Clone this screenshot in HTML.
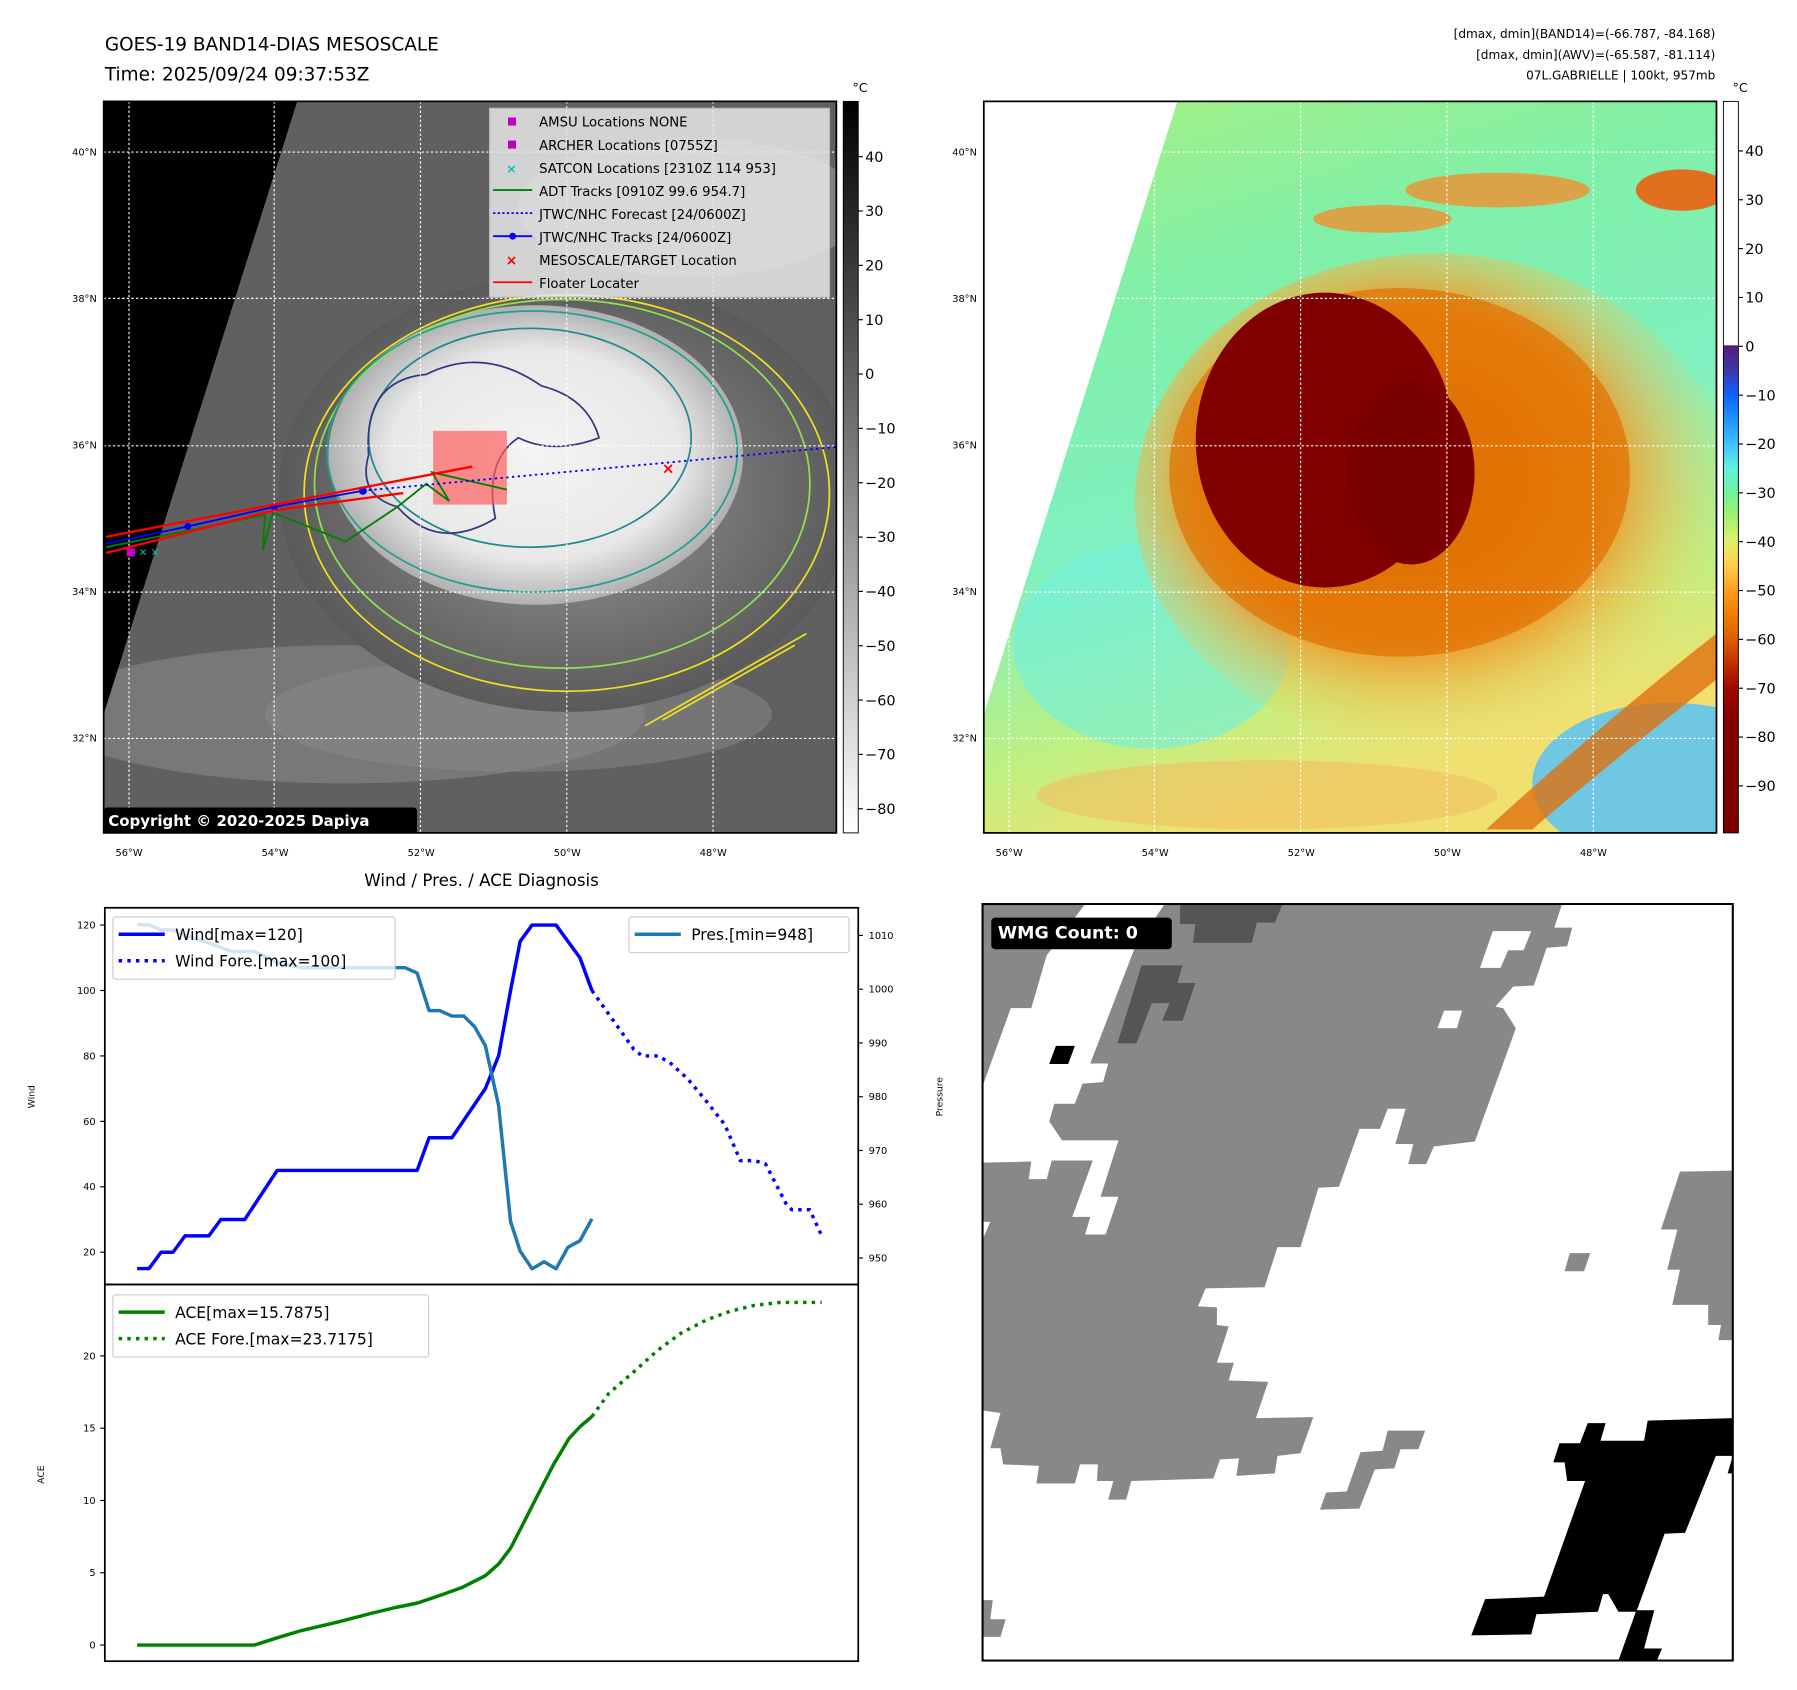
<!DOCTYPE html>
<html><head><meta charset="utf-8"><style>
html,body{margin:0;padding:0;background:#fff;}
svg{display:block;font-family:"DejaVu Sans","Liberation Sans",sans-serif;}
</style></head><body>
<svg id="root" width="1797" height="1690" viewBox="0 0 1797 1690" xmlns="http://www.w3.org/2000/svg">
<defs>
<linearGradient id="gray" x1="0" y1="0" x2="0" y2="1"><stop offset="0" stop-color="#000"/><stop offset="1" stop-color="#fff"/></linearGradient>
<linearGradient id="jet" x1="0" y1="0" x2="0" y2="1">
<stop offset="0" stop-color="#fff"/><stop offset="0.333" stop-color="#fff"/><stop offset="0.334" stop-color="#5a1a7a"/>
<stop offset="0.37" stop-color="#3a3ab0"/><stop offset="0.40" stop-color="#1060ff"/><stop offset="0.433" stop-color="#2090ff"/>
<stop offset="0.467" stop-color="#40c0ff"/><stop offset="0.5" stop-color="#60f0e0"/><stop offset="0.533" stop-color="#70f0a0"/>
<stop offset="0.567" stop-color="#a0f070"/><stop offset="0.6" stop-color="#e0f070"/><stop offset="0.633" stop-color="#ffd050"/>
<stop offset="0.667" stop-color="#ffa020"/><stop offset="0.7" stop-color="#f08000"/><stop offset="0.733" stop-color="#e06000"/>
<stop offset="0.767" stop-color="#c03000"/><stop offset="0.8" stop-color="#a00800"/><stop offset="0.85" stop-color="#800000"/><stop offset="1" stop-color="#7a0000"/></linearGradient>
<radialGradient id="core" cx="0.5" cy="0.5" r="0.5"><stop offset="0" stop-color="#f4f4f4"/><stop offset="0.7" stop-color="#e8e8e8"/><stop offset="1" stop-color="#b0b0b0"/></radialGradient>
<radialGradient id="halo" cx="0.5" cy="0.5" r="0.5"><stop offset="0" stop-color="#9a9a9a"/><stop offset="1" stop-color="#5a5a5a"/></radialGradient>
<radialGradient id="orange" cx="0.45" cy="0.45" r="0.55"><stop offset="0" stop-color="#d86000"/><stop offset="0.6" stop-color="#f09020"/><stop offset="1" stop-color="#ffd060" stop-opacity="0"/></radialGradient>
<linearGradient id="bg2" x1="0" y1="0" x2="0.3" y2="1"><stop offset="0" stop-color="#a8f080"/><stop offset="0.3" stop-color="#80f0a8"/><stop offset="0.6" stop-color="#80f0c0"/><stop offset="0.85" stop-color="#c0f080"/><stop offset="1" stop-color="#f0e070"/></linearGradient>
<clipPath id="c1"><rect x="90" y="88" width="636" height="635"/></clipPath>
<clipPath id="c2"><rect x="854" y="88" width="636" height="635"/></clipPath>
</defs>
<g transform="scale(1.152)">
<text x="91" y="44" font-size="16">GOES-19 BAND14-DIAS MESOSCALE</text>
<text x="91" y="70" font-size="16">Time: 2025/09/24 09:37:53Z</text>
<g font-size="10.5" text-anchor="end">
<text x="1489" y="33">[dmax, dmin](BAND14)=(-66.787, -84.168)</text>
<text x="1489" y="51">[dmax, dmin](AWV)=(-65.587, -81.114)</text>
<text x="1489" y="69">07L.GABRIELLE | 100kt, 957mb</text>
</g>

<!-- MAP 1 -->
<g clip-path="url(#c1)">
<rect x="90" y="88" width="636" height="635" fill="#606060"/>
<ellipse cx="300" cy="620" rx="260" ry="60" fill="#888" opacity="0.6"/>
<ellipse cx="450" cy="620" rx="220" ry="50" fill="#8a8a8a" opacity="0.5"/>
<ellipse cx="600" cy="180" rx="150" ry="60" fill="#9a9a9a" opacity="0.6"/>
<ellipse cx="492" cy="428" rx="250" ry="190" fill="url(#halo)"/>
<ellipse cx="465" cy="395" rx="180" ry="130" fill="url(#core)"/>
<polygon points="90,88 258,88 90,620" fill="#000"/>
<g fill="none" stroke-width="1.5">
<ellipse cx="492" cy="428" rx="228" ry="172" stroke="#f0e020"/>
<ellipse cx="488" cy="420" rx="215" ry="160" stroke="#90e050"/>
<ellipse cx="462" cy="392" rx="178" ry="122" stroke="#20a090"/>
<ellipse cx="460" cy="380" rx="140" ry="95" stroke="#208a90"/>
<path d="M320,395 Q315,330 370,325 Q420,300 470,335 Q510,345 520,380 Q480,395 450,380 Q420,400 430,450 Q380,480 345,440 Q310,430 320,395Z" stroke="#303880"/>
<path d="M560,630 L700,550 M575,625 L690,560" stroke="#f0e020"/>
</g>
<g stroke="#fff" stroke-width="1" stroke-dasharray="2,2">
<line x1="112" y1="88" x2="112" y2="723"/><line x1="238" y1="88" x2="238" y2="723"/><line x1="365" y1="88" x2="365" y2="723"/><line x1="492" y1="88" x2="492" y2="723"/><line x1="619" y1="88" x2="619" y2="723"/>
<line x1="90" y1="132" x2="726" y2="132"/><line x1="90" y1="259" x2="726" y2="259"/><line x1="90" y1="387" x2="726" y2="387"/><line x1="90" y1="514" x2="726" y2="514"/><line x1="90" y1="641" x2="726" y2="641"/>
</g>
<rect x="376" y="374" width="64" height="64" fill="#ff6060" opacity="0.7"/>
<polyline points="92,475 230,447 228,478 237,445 300,470 345,440 370,420 390,435 375,410 440,425" fill="none" stroke="#008000" stroke-width="1.6"/>
<polyline points="315,426 726,388" fill="none" stroke="#0000ff" stroke-width="1.6" stroke-dasharray="2,3"/>
<polyline points="92,472 163,457 238,440 315,426" fill="none" stroke="#0000ff" stroke-width="1.6"/>
<circle cx="163" cy="457" r="3" fill="#00f"/><circle cx="238" cy="440" r="3" fill="#00f"/><circle cx="315" cy="426" r="3.5" fill="#00f"/>
<polyline points="92,466 410,405" fill="none" stroke="#ff0000" stroke-width="2"/>
<polyline points="92,480 238,443 350,428" fill="none" stroke="#ff0000" stroke-width="2"/>
<text x="580" y="411" font-size="13" fill="#f00" text-anchor="middle" font-weight="bold">×</text>
<text x="110" y="482" font-size="9" fill="#0cc">× × ×</text>
<rect x="110" y="476" width="7" height="7" fill="#c0c"/>
<rect x="425" y="94" width="295" height="164" fill="#e8e8e8" opacity="0.85" stroke="#ccc"/>
<g font-size="11.5">
<rect x="441" y="102" width="7" height="7" fill="#c000c0"/><text x="468" y="110">AMSU Locations NONE</text>
<rect x="441" y="122" width="7" height="7" fill="#c000c0"/><text x="468" y="130">ARCHER Locations [0755Z]</text>
<text x="444" y="150" fill="#00c0c0" font-size="11" text-anchor="middle" font-weight="bold">×</text><text x="468" y="150">SATCON Locations [2310Z 114 953]</text>
<line x1="428" y1="165" x2="462" y2="165" stroke="#008000" stroke-width="1.6"/><text x="468" y="170">ADT Tracks [0910Z 99.6 954.7]</text>
<line x1="428" y1="185" x2="462" y2="185" stroke="#00f" stroke-width="1.6" stroke-dasharray="2,2"/><text x="468" y="190">JTWC/NHC Forecast [24/0600Z]</text>
<line x1="428" y1="205" x2="462" y2="205" stroke="#00f" stroke-width="1.6"/><circle cx="445" cy="205" r="3" fill="#00f"/><text x="468" y="210">JTWC/NHC Tracks [24/0600Z]</text>
<text x="444" y="230" fill="#f00" font-size="12" text-anchor="middle" font-weight="bold">×</text><text x="468" y="230">MESOSCALE/TARGET Location</text>
<line x1="428" y1="245" x2="462" y2="245" stroke="#f00" stroke-width="1.6"/><text x="468" y="250">Floater Locater</text>
</g>
<rect x="90" y="701" width="272" height="23" rx="3" fill="#000"/>
<text x="94" y="717" font-size="13" font-weight="bold" fill="#fff">Copyright © 2020-2025 Dapiya</text>
</g>
<rect x="90" y="88" width="636" height="635" fill="none" stroke="#000" stroke-width="1.5"/>
<rect x="732" y="88" width="13" height="635" fill="url(#gray)" stroke="#000" stroke-width="0.8"/>
<text x="740" y="80" font-size="11">°C</text>
<g id="cb1" font-size="12.5"></g>

<!-- MAP 2 -->
<g clip-path="url(#c2)">
<rect x="854" y="88" width="636" height="635" fill="url(#bg2)"/>
<ellipse cx="1450" cy="680" rx="120" ry="70" fill="#50c0ff" opacity="0.8"/>
<ellipse cx="1000" cy="560" rx="120" ry="90" fill="#70f0e0" opacity="0.6"/>
<ellipse cx="1100" cy="690" rx="200" ry="30" fill="#f0c060" opacity="0.6"/>
<path d="M1290,720 Q1400,620 1490,550 L1490,590 Q1400,660 1330,720Z" fill="#e07010" opacity="0.8"/>
<ellipse cx="1245" cy="435" rx="260" ry="215" fill="url(#orange)"/>
<ellipse cx="1215" cy="410" rx="200" ry="160" fill="#e07000" opacity="0.7"/>
<ellipse cx="1150" cy="382" rx="112" ry="128" fill="#800000"/>
<ellipse cx="1225" cy="410" rx="55" ry="80" fill="#7a0000"/>
<ellipse cx="1300" cy="165" rx="80" ry="15" fill="#f09030" opacity="0.8"/>
<ellipse cx="1200" cy="190" rx="60" ry="12" fill="#f09030" opacity="0.8"/>
<ellipse cx="1460" cy="165" rx="40" ry="18" fill="#e07020"/>
<polygon points="854,88 1022,88 854,620" fill="#fff"/>
<g stroke="#fff" stroke-width="1" stroke-dasharray="2,2">
<line x1="876" y1="88" x2="876" y2="723"/><line x1="1002" y1="88" x2="1002" y2="723"/><line x1="1129" y1="88" x2="1129" y2="723"/><line x1="1256" y1="88" x2="1256" y2="723"/><line x1="1383" y1="88" x2="1383" y2="723"/>
<line x1="854" y1="132" x2="1490" y2="132"/><line x1="854" y1="259" x2="1490" y2="259"/><line x1="854" y1="387" x2="1490" y2="387"/><line x1="854" y1="514" x2="1490" y2="514"/><line x1="854" y1="641" x2="1490" y2="641"/>
</g>
</g>
<rect x="854" y="88" width="636" height="635" fill="none" stroke="#000" stroke-width="1.5"/>
<rect x="1496" y="88" width="13" height="635" fill="url(#jet)" stroke="#000" stroke-width="0.8"/>
<text x="1504" y="80" font-size="11">°C</text>
<g id="cb2" font-size="12.5"></g>
<g id="maplabels" font-size="8.5"></g>

<text x="418" y="769" font-size="14.5" text-anchor="middle">Wind / Pres. / ACE Diagnosis</text>
<g id="chart"></g>
</g>

<!-- WMG panel -->
<g transform="translate(980,900) scale(0.5128,0.503)">
<rect x="5" y="8" width="1463" height="1504" fill="#fff"/>
<g fill="#888">
<polygon points="5,8 205,8 130,110 100,215 60,215 5,370"/>
<polygon points="360,8 1135,8 1120,55 1155,55 1145,92 1105,95 1080,170 1040,172 1005,212 1020,215 1045,255 965,480 885,490 870,525 835,525 845,485 810,485 830,415 795,415 780,455 740,455 700,570 660,572 625,690 580,690 555,770 440,772 425,808 462,810 462,845 485,848 462,920 495,920 485,955 562,958 538,1030 650,1028 625,1100 580,1105 575,1140 500,1145 505,1110 468,1112 455,1150 295,1155 285,1192 250,1192 260,1155 228,1155 230,1122 195,1122 185,1160 110,1160 115,1125 45,1122 40,1090 20,1090 40,1020 5,1015 5,675 20,640 5,640 5,522 100,520 95,555 130,555 140,518 220,518 180,630 215,630 205,665 245,665 270,590 235,590 270,478 160,478 135,440 145,405 185,405 200,365 240,362 250,325 215,325 300,100"/>
<polygon points="1365,540 1468,538 1468,875 1440,875 1445,845 1420,845 1420,805 1350,805 1365,735 1340,735 1360,655 1328,655"/>
<polygon points="1150,702 1190,702 1178,738 1140,738"/>
<polygon points="795,1055 868,1055 855,1092 820,1092 808,1130 770,1132 740,1210 663,1212 675,1178 715,1176 742,1098 785,1095"/>
<polygon points="5,1392 25,1392 20,1430 50,1430 40,1465 5,1465"/>
</g>
<g fill="#fff"><polygon points="905,220 940,220 930,255 892,255"/><polygon points="1000,62 1075,62 1060,100 1030,100 1015,135 975,135"/></g>
<g fill="#555"><polygon points="390,8 590,8 575,45 540,45 530,85 415,85 420,48 390,48"/><polygon points="315,130 395,130 385,165 420,165 395,240 355,240 370,205 335,205 305,285 268,285"/></g>
<g fill="#000">
<polygon points="148,290 185,290 172,326 135,326"/>
<polygon points="1185,1040 1220,1040 1210,1075 1295,1075 1302,1035 1468,1030 1468,1140 1458,1140 1468,1105 1435,1105 1375,1258 1335,1260 1280,1415 1245,1415 1225,1380 1215,1380 1205,1415 1085,1420 1075,1460 958,1462 985,1390 1100,1385 1180,1155 1145,1155 1140,1118 1118,1118 1130,1080 1170,1080"/>
<polygon points="1280,1412 1315,1412 1295,1488 1330,1488 1320,1512 1245,1512"/>
</g>
<rect x="22" y="35" width="352" height="63" rx="8" fill="#000"/>
<text x="35" y="77" font-size="34" font-weight="bold" fill="#fff">WMG Count: 0</text>
<rect x="5" y="8" width="1463" height="1504" fill="none" stroke="#000" stroke-width="4"/>
</g>
</svg>
<script>
const NS='http://www.w3.org/2000/svg';
function mk(parent,tag,attrs,txt){const e=document.createElementNS(NS,tag);for(const k in attrs)e.setAttribute(k,attrs[k]);if(txt!==undefined)e.textContent=txt;parent.appendChild(e);return e;}

// colorbar labels
const cb1Ticks=[40,30,20,10,0,-10,-20,-30,-40,-50,-60,-70,-80];
const cb2Ticks=[40,30,20,10,0,-10,-20,-30,-40,-50,-60,-70,-80,-90];
const latTicks=['40°N','38°N','36°N','34°N','32°N'];
const lonTicks=['56°W','54°W','52°W','50°W','48°W'];
const cb1=document.getElementById('cb1');
cb1Ticks.forEach(v=>{const y=136+(40-v)*4.717;mk(cb1,'line',{x1:745,x2:749,y1:y,y2:y,stroke:'#000'});const t=mk(cb1,'text',{x:751,y:y+4.5},(v<0?'\u2212':'')+Math.abs(v));});
const cb2=document.getElementById('cb2');
cb2Ticks.forEach(v=>{const y=131+(40-v)*4.24;mk(cb2,'line',{x1:1509,x2:1513,y1:y,y2:y,stroke:'#000'});const t=mk(cb2,'text',{x:1515,y:y+4.5},(v<0?'\u2212':'')+Math.abs(v));});
const ml=document.getElementById('maplabels');
latTicks.forEach((s,i)=>{const y=132+i*127.2+3;[0,764].forEach(o=>{const t=mk(ml,'text',{x:84+o,y:y,'text-anchor':'end'},s);});});
lonTicks.forEach((s,i)=>{const x=112+i*126.8;[0,764].forEach(o=>{const t=mk(ml,'text',{x:x+o,y:743,'text-anchor':'middle'},s);});});

// chart data
const windT=[0,1,2,3,4,6,7,9,11.7,23.4,24.4,26.3,29.1,30.2,31.2,32,33,35,37,38];
const windV=[15,15,20,20,25,25,30,30,45,45,55,55,70,80,100,115,120,120,110,100];
const windFT=[38,41.5,42.2,43.5,44.5,46,47.6,49.1,50.4,51.6,52.5,54.2,54.7,56.2,57.2];
const windFV=[100,82,80,80,78,73,66,59,48,48,47,35,33,33,25];
const presT=[0,1,2,3,4,6,7.9,9.8,11.7,13.7,22.4,23.4,24.4,25.3,26.3,27.3,28.2,29.1,30.2,31.2,32,33,34,35,36,37,38];
const presV=[1012,1012,1011,1011,1010,1008.6,1007,1007,1005,1004,1004,1003,996,996,995,995,993,989.5,978.4,956.8,951.3,948,949.3,948,952,953.2,957.3];
const aceT=[0,9.8,11.7,13.7,16.8,19.6,21.6,23.4,25.2,27.2,29.1,30.2,31.2,32.2,33.3,34.8,36.1,37,38];
const aceV=[0,0,0.5,1.0,1.6,2.2,2.6,2.9,3.4,4.0,4.8,5.6,6.7,8.3,10.1,12.5,14.3,15.1,15.8];
const aceFT=[38,39.4,41.5,43.5,45.5,47.6,49.6,51.6,53.7,57.2];
const aceFV=[15.8,17.4,18.9,20.4,21.6,22.5,23.1,23.5,23.7,23.7];
const windTicks=[20,40,60,80,100,120];
const presTicks=[950,960,970,980,990,1000,1010];
const aceTicks=[0,5,10,15,20];

const X=t=>119+t*10.39;
const YW=v=>803+(120-v)*2.84;
const YP=p=>812+(1010-p)*4.667;
const YA=a=>1428-a*12.55;
const ch=document.getElementById('chart');
function line(ts,vs,yf,color,dash,name){const p=mk(ch,'polyline',{points:ts.map((t,i)=>X(t).toFixed(1)+','+yf(vs[i]).toFixed(1)).join(' '),fill:'none',stroke:color,'stroke-width':3,'stroke-linejoin':'round'});if(dash)p.setAttribute('stroke-dasharray',dash);}
function axbox(y1,y2,name){const r=mk(ch,'rect',{x:91,y:y1,width:654,height:y2-y1,fill:'none',stroke:'#000','stroke-width':1.5});}
line(windT,windV,YW,'#0000ff',null,'wind-line');
line(windFT,windFV,YW,'#0000ff','3,4.5','wind-forecast-line');
line(presT,presV,YP,'#1f77b4',null,'pressure-line');
line(aceT,aceV,YA,'#008000',null,'ace-line');
line(aceFT,aceFV,YA,'#008000','3,4.5','ace-forecast-line');
axbox(788,1115,'wind-axes');axbox(1115,1442,'ace-axes');
windTicks.forEach(v=>{const y=YW(v);mk(ch,'line',{x1:87,x2:91,y1:y,y2:y,stroke:'#000'});const t=mk(ch,'text',{x:83,y:y+3,'font-size':8.5,'text-anchor':'end'},v);});
presTicks.forEach(v=>{const y=YP(v);mk(ch,'line',{x1:745,x2:749,y1:y,y2:y,stroke:'#000'});const t=mk(ch,'text',{x:754,y:y+3,'font-size':8.5},v);});
aceTicks.forEach(v=>{const y=YA(v);mk(ch,'line',{x1:87,x2:91,y1:y,y2:y,stroke:'#000'});const t=mk(ch,'text',{x:83,y:y+3,'font-size':8.5,'text-anchor':'end'},v);});
let t;
t=mk(ch,'text',{transform:'translate(30,952) rotate(-90)','font-size':8,'text-anchor':'middle'},'Wind');
t=mk(ch,'text',{transform:'translate(818,952) rotate(-90)','font-size':8,'text-anchor':'middle'},'Pressure');
t=mk(ch,'text',{transform:'translate(38,1280) rotate(-90)','font-size':8,'text-anchor':'middle'},'ACE');
function legend(x,y,w,h,items,name){const g=mk(ch,'g',{});mk(g,'rect',{x:x,y:y,width:w,height:h,rx:2,fill:'#fff','fill-opacity':0.8,stroke:'#ccc'});items.forEach((it,i)=>{const yy=y+15+i*23;const l=mk(g,'line',{x1:x+5,x2:x+45,y1:yy,y2:yy,stroke:it[1],'stroke-width':3});if(it[2])l.setAttribute('stroke-dasharray','3,4.5');mk(g,'text',{x:x+54,y:yy+5,'font-size':13.5},it[0]);});}
legend(98,796,245,54,[['Wind[max=120]','#0000ff',0],['Wind Fore.[max=100]','#0000ff',1]],'wind-legend');
legend(546,796,191,31,[['Pres.[min=948]','#1f77b4',0]],'pressure-legend');
legend(98,1124,274,54,[['ACE[max=15.7875]','#008000',0],['ACE Fore.[max=23.7175]','#008000',1]],'ace-legend');
</script>
</body></html>
